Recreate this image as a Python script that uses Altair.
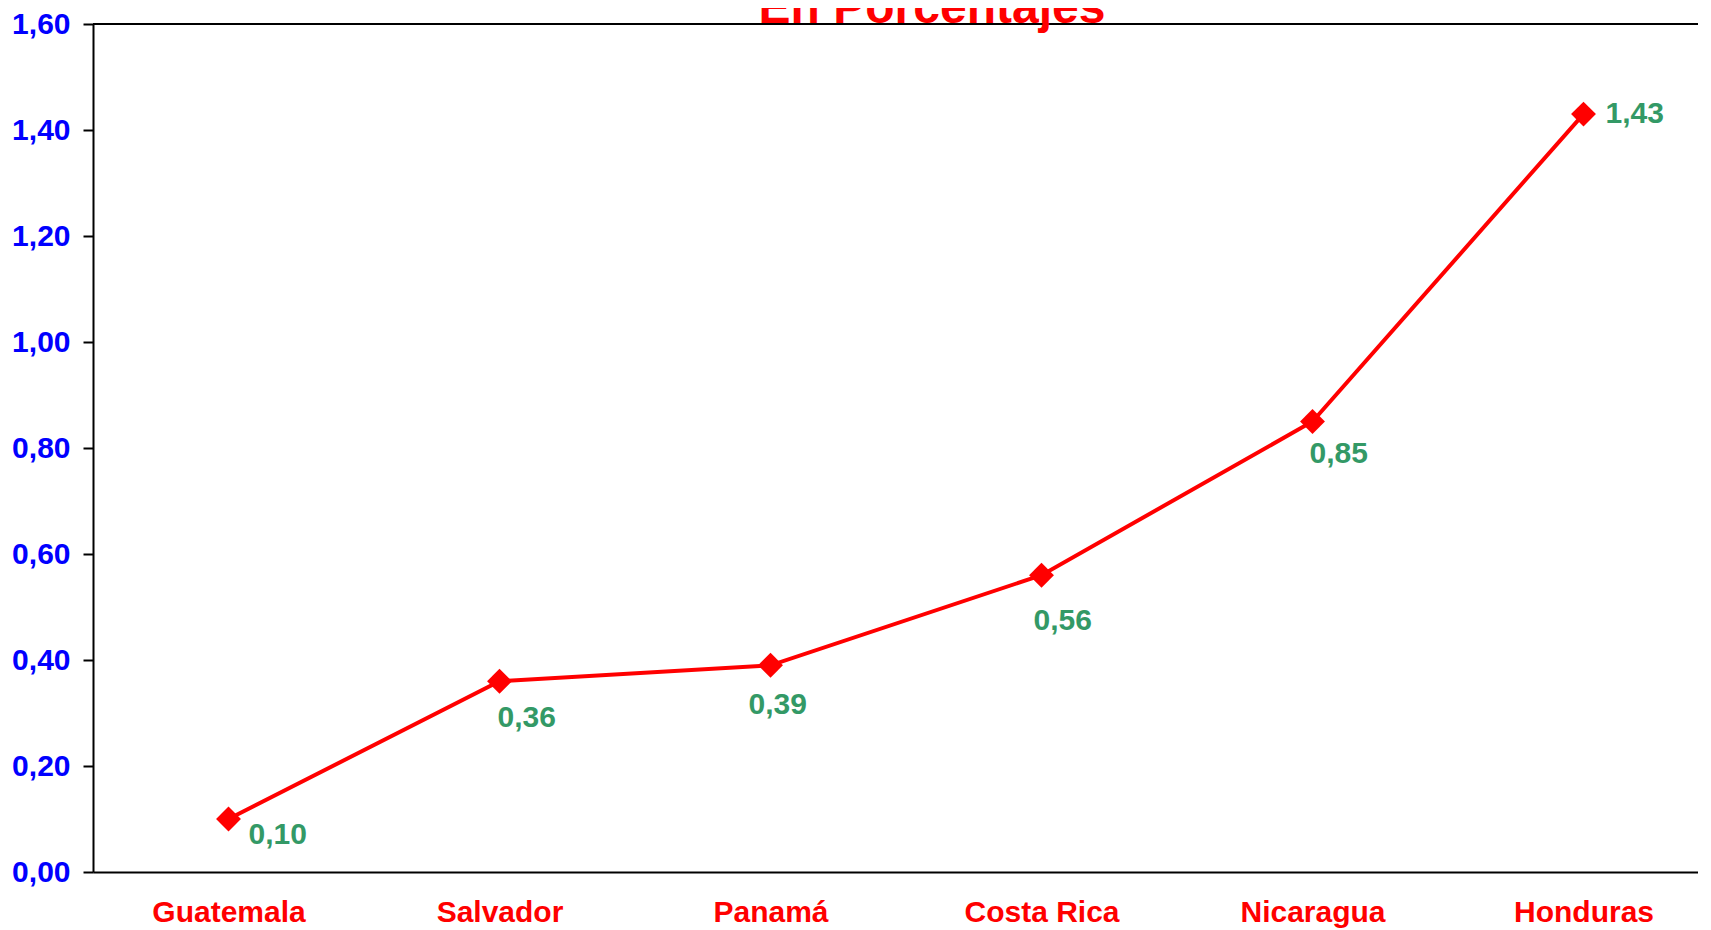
import altair as alt
import pandas as pd

# ---- data ----
COUNTRIES = ["Guatemala", "Salvador", "Panamá", "Costa Rica", "Nicaragua", "Honduras"]
VALUES = [0.10, 0.36, 0.39, 0.56, 0.85, 1.43]
Y_TICKS = [0.0, 0.2, 0.4, 0.6, 0.8, 1.0, 1.2, 1.4, 1.6]
TITLE = "En Porcentajes"

# ---- styling (label placement offsets, px) ----
LABEL_DX = [20, -2, -22, -8, -3, 22]
LABEL_DY = [16, 37, 40, 46, 32, 0]

FONT = "Liberation Sans"
W, H = 1626, 848
RED = "#FF0000"
GREEN = "#339966"
BLUE = "#0000FF"

df = pd.DataFrame({"pais": COUNTRIES, "valor": VALUES})
df["etiqueta"] = [f"{v:.2f}".replace(".", ",") for v in VALUES]

x_enc = alt.X(
    "pais:N",
    sort=COUNTRIES,
    scale=alt.Scale(type="point", padding=0.5),
    axis=alt.Axis(
        title=None,
        labelAngle=0,
        ticks=False,
        labelColor=RED,
        labelFont=FONT,
        labelFontSize=30,
        labelFontWeight="bold",
        labelPadding=25,
        domainColor="black",
        domainWidth=2,
    ),
)
y_enc = alt.Y(
    "valor:Q",
    scale=alt.Scale(domain=[0, 1.6], nice=False, zero=True),
    axis=alt.Axis(
        title=None,
        values=Y_TICKS,
        labelExpr="replace(format(datum.value, '.2f'), '.', ',')",
        labelColor=BLUE,
        labelFont=FONT,
        labelFontSize=30,
        labelFontWeight="bold",
        labelPadding=13,
        tickSize=10,
        tickWidth=2,
        tickColor="black",
        domainColor="black",
        domainWidth=2,
        grid=False,
    ),
)

base = alt.Chart(df)

line = base.mark_line(color=RED, strokeWidth=4).encode(x=x_enc, y=y_enc)
points = base.mark_point(
    shape="diamond", filled=True, size=620, color=RED, opacity=1
).encode(x=x_enc, y=y_enc)

label_layers = []
for pais, dx, dy in zip(COUNTRIES, LABEL_DX, LABEL_DY):
    label_layers.append(
        base.transform_filter(alt.datum.pais == pais)
        .mark_text(
            align="left",
            baseline="middle",
            dx=dx,
            dy=dy,
            font=FONT,
            fontSize=30,
            fontWeight="bold",
            color=GREEN,
        )
        .encode(x=x_enc, y=y_enc, text="etiqueta:N")
    )

top_border = (
    alt.Chart(pd.DataFrame({"k": [0]}))
    .mark_rule(color="black", strokeWidth=2)
    .encode(x=alt.value(0), x2=alt.value(W), y=alt.value(0))
)

title = (
    alt.Chart(pd.DataFrame({"t": [TITLE]}))
    .mark_text(
        align="center",
        baseline="alphabetic",
        font=FONT,
        fontSize=48,
        fontWeight="bold",
        color=RED,
    )
    .encode(text="t:N", x=alt.value(839), y=alt.value(-1))
)

chart = (
    alt.layer(top_border, line, points, *label_layers, title)
    .properties(
        width=W,
        height=H,
        autosize=alt.AutoSizeParams(type="none"),
        padding={"left": 85, "top": 16, "right": -21, "bottom": 56},
        background="white",
    )
    .configure_view(stroke=None)
)

chart.save("out.html", embed_options={"renderer": "svg", "actions": False})
